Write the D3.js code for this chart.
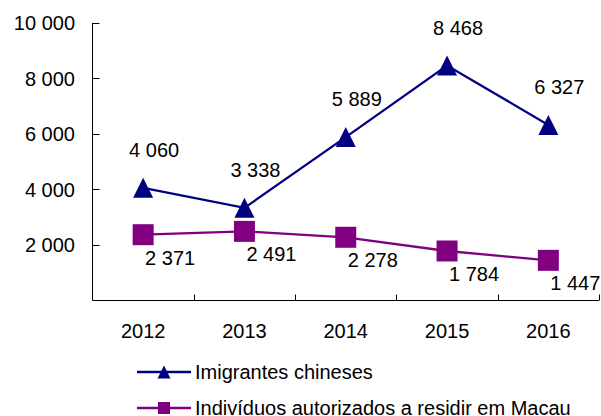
<!DOCTYPE html>
<html><head><meta charset="utf-8">
<script src="https://cdn.jsdelivr.net/npm/d3@7"></script>
<style>
html,body{margin:0;padding:0;background:#fff;}
svg{display:block;font-family:"Liberation Sans",Arial,sans-serif;}
</style></head>
<body>
<svg id="chart" width="601" height="416"></svg>
<script>
const years = ["2012","2013","2014","2015","2016"];
const immigrants = [4060, 3338, 5889, 8468, 6327];
const residents = [2371, 2491, 2278, 1784, 1447];
const yTicks = [2000, 4000, 6000, 8000, 10000];
const seriesNames = ["Imigrantes chineses", "Indivíduos autorizados a residir em Macau"];
const colors = ["#000080", "#800080"];

(function () {
const svg = d3.select("#chart");
const pLeft = 92.5, pRight = 599, pTop = 23, pBottom = 300.5;
const x = d3.scaleBand().domain(years).range([pLeft, pRight]);
const y = d3.scaleLinear().domain([0, 10000]).range([pBottom, pTop]);
const cx = d => x(d) + x.bandwidth() / 2;
const fmt = v => d3.format(",")(v).replace(/,/g, " ");
const fs = 20;

const g = svg.append("g");
g.append("line").attr("x1", pLeft).attr("x2", pLeft).attr("y1", pTop).attr("y2", pBottom)
  .attr("stroke", "#000").attr("stroke-width", 1);
g.append("line").attr("x1", pLeft).attr("x2", pRight).attr("y1", pBottom).attr("y2", pBottom)
  .attr("stroke", "#000").attr("stroke-width", 1);
yTicks.forEach(t => {
  g.append("line").attr("x1", pLeft).attr("x2", pLeft + 7).attr("y1", Math.round(y(t)) + 0.5).attr("y2", Math.round(y(t)) + 0.5)
    .attr("stroke", "#000");
  g.append("text").attr("x", 75).attr("y", y(t)).attr("dy", "0.35em")
    .attr("text-anchor", "end").attr("font-size", fs).text(fmt(t));
});
const edges = years.map(d => x(d)).concat([x(years[years.length - 1]) + x.bandwidth()]);
edges.slice(1).forEach(e => {
  g.append("line").attr("x1", Math.round(e) + 0.5).attr("x2", Math.round(e) + 0.5)
    .attr("y1", pBottom).attr("y2", pBottom - 6).attr("stroke", "#000");
});
years.forEach(d => {
  g.append("text").attr("x", cx(d)).attr("y", pBottom + 37).attr("text-anchor", "middle")
    .attr("font-size", fs).text(d);
});

const triangle = {draw(ctx, size) { const s = Math.sqrt(size); ctx.moveTo(0, -s/2); ctx.lineTo(s/2, s/2); ctx.lineTo(-s/2, s/2); ctx.closePath(); }};
const square = {draw(ctx, size) { const s = Math.sqrt(size); ctx.rect(-s/2, -s/2, s, s); }};

const line = d3.line().x((d, i) => cx(years[i])).y(d => y(d));

svg.append("path").datum(immigrants).attr("d", line).attr("fill", "none")
  .attr("stroke", colors[0]).attr("stroke-width", 2.3);
svg.append("path").datum(residents).attr("d", line).attr("fill", "none")
  .attr("stroke", colors[1]).attr("stroke-width", 2.3);

svg.selectAll(".m2").data(residents).enter().append("path")
  .attr("transform", (d, i) => `translate(${cx(years[i])},${y(d)})`)
  .attr("d", d3.symbol().type(square).size(21 * 21)).attr("fill", colors[1]);
svg.selectAll(".m1").data(immigrants).enter().append("path")
  .attr("transform", (d, i) => `translate(${cx(years[i])},${y(d)})`)
  .attr("d", d3.symbol().type(triangle).size(20 * 20)).attr("fill", colors[0]);

svg.selectAll(".l1").data(immigrants).enter().append("text")
  .attr("x", (d, i) => cx(years[i]) + 11).attr("y", d => y(d) - 31)
  .attr("text-anchor", "middle").attr("font-size", fs).text(fmt);
svg.selectAll(".l2").data(residents).enter().append("text")
  .attr("x", (d, i) => cx(years[i]) + 27).attr("y", d => y(d) + 30)
  .attr("text-anchor", "middle").attr("font-size", fs).text(fmt);

const lg = svg.append("g");
const legY = [372, 408];
seriesNames.forEach((n, i) => {
  lg.append("line").attr("x1", 137).attr("x2", 191).attr("y1", legY[i]).attr("y2", legY[i])
    .attr("stroke", colors[i]).attr("stroke-width", 2.3);
  lg.append("path").attr("transform", `translate(164,${legY[i]})`)
    .attr("d", d3.symbol().type(i === 0 ? triangle : square).size(i === 0 ? 169 : 144)).attr("fill", colors[i]);
  lg.append("text").attr("x", 195).attr("y", legY[i]).attr("dy", "0.35em")
    .attr("font-size", fs).text(n);
});
})();
</script>
</body></html>
